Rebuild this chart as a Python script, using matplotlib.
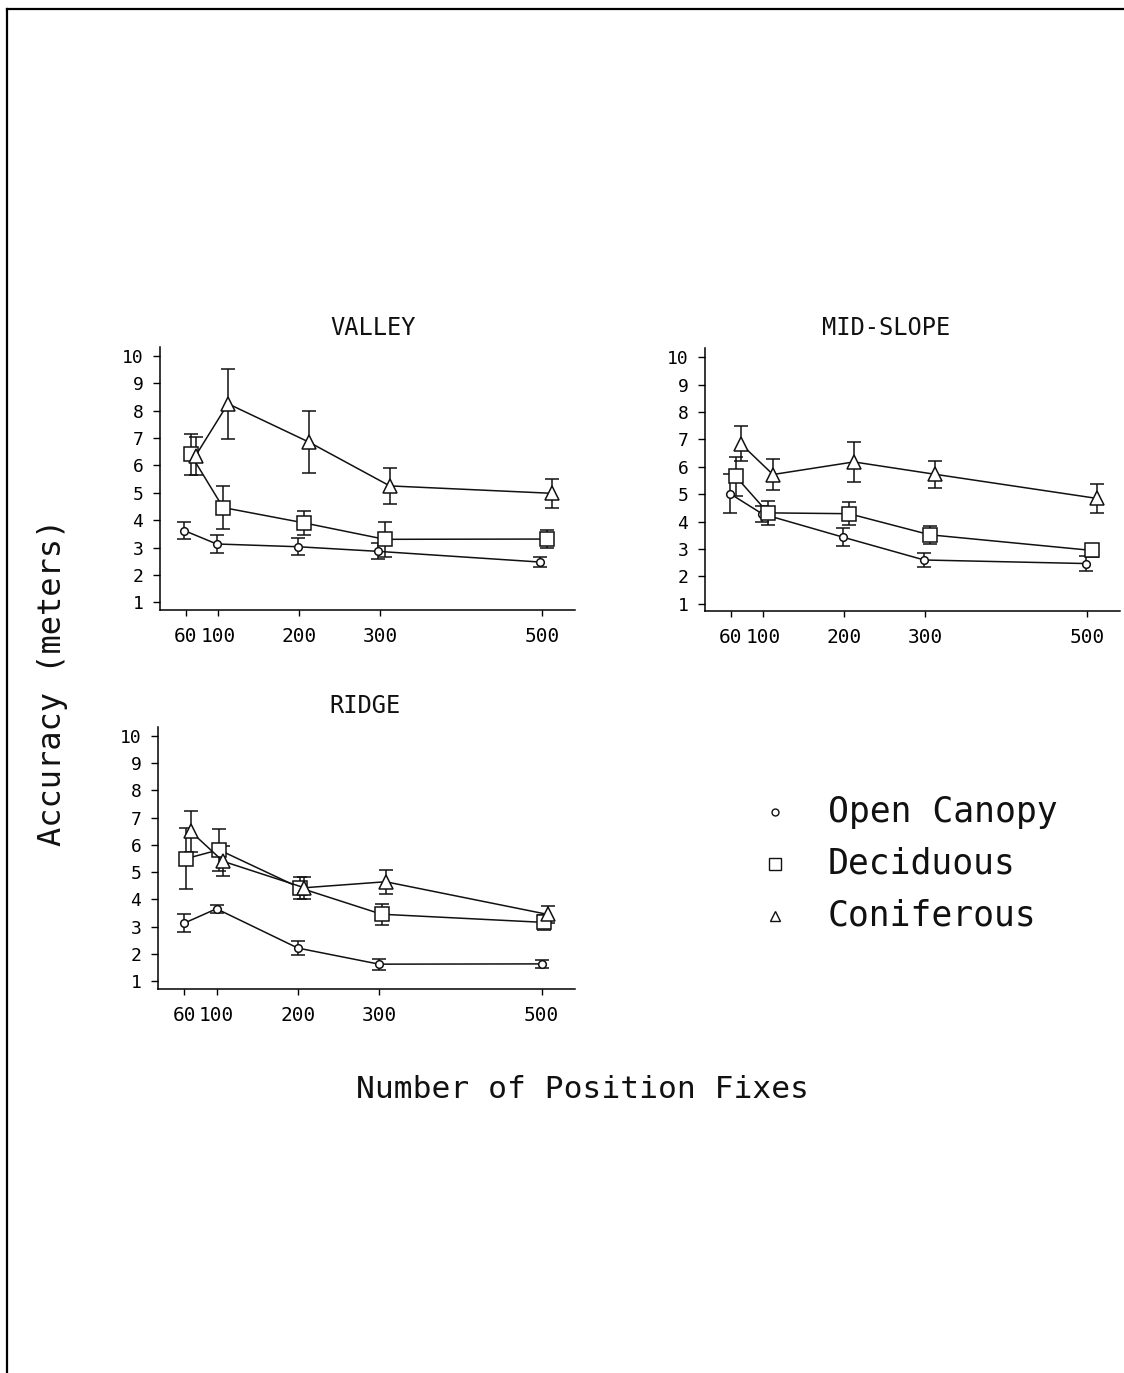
import matplotlib
matplotlib.use("Agg")
import matplotlib.pyplot as plt
from matplotlib.lines import Line2D

plt.rcParams['font.family'] = ['DejaVu Sans Mono', 'DejaVu Sans']

# ---------------- data ----------------
x_fixes = [60, 100, 200, 300, 500]
x_tick_labels = ["60", "100", "200", "300", "500"]
y_ticks = [1, 2, 3, 4, 5, 6, 7, 8, 9, 10]

series_names = ["Open Canopy", "Deciduous", "Coniferous"]

valley_open = [3.62, 3.13, 3.03, 2.86, 2.47]
valley_open_err = [0.32, 0.32, 0.32, 0.29, 0.19]
valley_decid = [6.40, 4.46, 3.90, 3.30, 3.31]
valley_decid_err = [0.75, 0.80, 0.43, 0.64, 0.32]
valley_conif = [6.35, 8.25, 6.85, 5.25, 4.98]
valley_conif_err = [0.70, 1.27, 1.14, 0.65, 0.53]

mid_open = [5.02, 4.28, 3.43, 2.60, 2.47]
mid_open_err = [0.72, 0.30, 0.33, 0.25, 0.26]
mid_decid = [5.65, 4.32, 4.29, 3.52, 2.95]
mid_decid_err = [0.70, 0.45, 0.42, 0.32, 0.23]
mid_conif = [6.85, 5.72, 6.18, 5.73, 4.85]
mid_conif_err = [0.65, 0.55, 0.72, 0.50, 0.52]

ridge_open = [3.13, 3.66, 2.22, 1.63, 1.64]
ridge_open_err = [0.32, 0.15, 0.25, 0.20, 0.16]
ridge_decid = [5.50, 5.82, 4.42, 3.46, 3.16]
ridge_decid_err = [1.12, 0.78, 0.41, 0.39, 0.26]
ridge_conif = [6.50, 5.40, 4.43, 4.65, 3.45]
ridge_conif_err = [0.75, 0.55, 0.40, 0.44, 0.30]

# ---------------- styling ----------------
W, H = 1124, 1373
fig = plt.figure(figsize=(W / 100, H / 100), dpi=100)
fig.patch.set_facecolor("white")

def fx(px):
    return px / W

def fy(py):
    return 1 - py / H

markers = ["o", "s", "^"]
msizes = [5.5, 10, 10]

panels = [
    ("VALLEY", [fx(160), fy(610), fx(415), 263 / H],
     [(valley_open, valley_open_err), (valley_decid, valley_decid_err), (valley_conif, valley_conif_err)],
     [-2, 6, 12], (373, 328)),
    ("MID-SLOPE", [fx(705), fy(611.5), fx(415), 263 / H],
     [(mid_open, mid_open_err), (mid_decid, mid_decid_err), (mid_conif, mid_conif_err)],
     [-1, 6, 12], (886, 328)),
    ("RIDGE", [fx(158), fy(989), fx(417), 262 / H],
     [(ridge_open, ridge_open_err), (ridge_decid, ridge_decid_err), (ridge_conif, ridge_conif_err)],
     [0, 3, 8], (365, 706)),
]

for title, rect, data, offsets, tpos in panels:
    ax = fig.add_axes(rect)
    for (vals, errs), mk, ms, off in zip(data, markers, msizes, offsets):
        xs = [x + off for x in x_fixes]
        ax.errorbar(xs, vals, yerr=errs, color="#111111", lw=1.1,
                    elinewidth=1.1, capsize=5, capthick=1.1,
                    marker=mk, ms=ms, mfc="white", mec="#111111", mew=1.1)
    ax.set_xlim(28, 541)
    ax.set_ylim(0.72, 10.32)
    ax.set_xticks(x_fixes)
    ax.set_xticklabels(x_tick_labels)
    ax.set_yticks(y_ticks)
    ax.spines["top"].set_visible(False)
    ax.spines["right"].set_visible(False)
    ax.spines["left"].set_linewidth(1.1)
    ax.spines["bottom"].set_linewidth(1.1)
    ax.tick_params(axis="y", length=5, width=1.0, pad=7, labelsize=13)
    ax.tick_params(axis="x", length=4, width=1.0, pad=8, labelsize=14)
    fig.text(fx(tpos[0]), fy(tpos[1]), title, ha="center", va="center",
             fontsize=17, color="#111111")

# axis labels
fig.text(fx(53), fy(682), "Accuracy (meters)", rotation=90, ha="center",
         va="center", fontsize=23, color="#111111")
fig.text(fx(583), fy(1090), "Number of Position Fixes", ha="center",
         va="center", fontsize=22.5, color="#111111")

# legend
leg_y = [812, 864, 916]
leg_ms = [5, 8, 7]
for name, mk, ms, yy in zip(series_names, markers, leg_ms, leg_y):
    fig.add_artist(Line2D([fx(775)], [fy(yy)], marker=mk, ms=ms, mfc="white",
                          mec="#111111", mew=1.0, linestyle="none",
                          transform=fig.transFigure))
    fig.text(fx(828), fy(yy), name, ha="left", va="center", fontsize=25,
             color="#111111")

# scanned page border
fig.add_artist(Line2D([fx(7), fx(1124)], [fy(9), fy(9)], color="black", lw=1.6,
                      transform=fig.transFigure))
fig.add_artist(Line2D([fx(7), fx(7)], [fy(9), fy(1373)], color="black", lw=1.6,
                      transform=fig.transFigure))

fig.savefig("out.png", dpi=100, facecolor="white")
